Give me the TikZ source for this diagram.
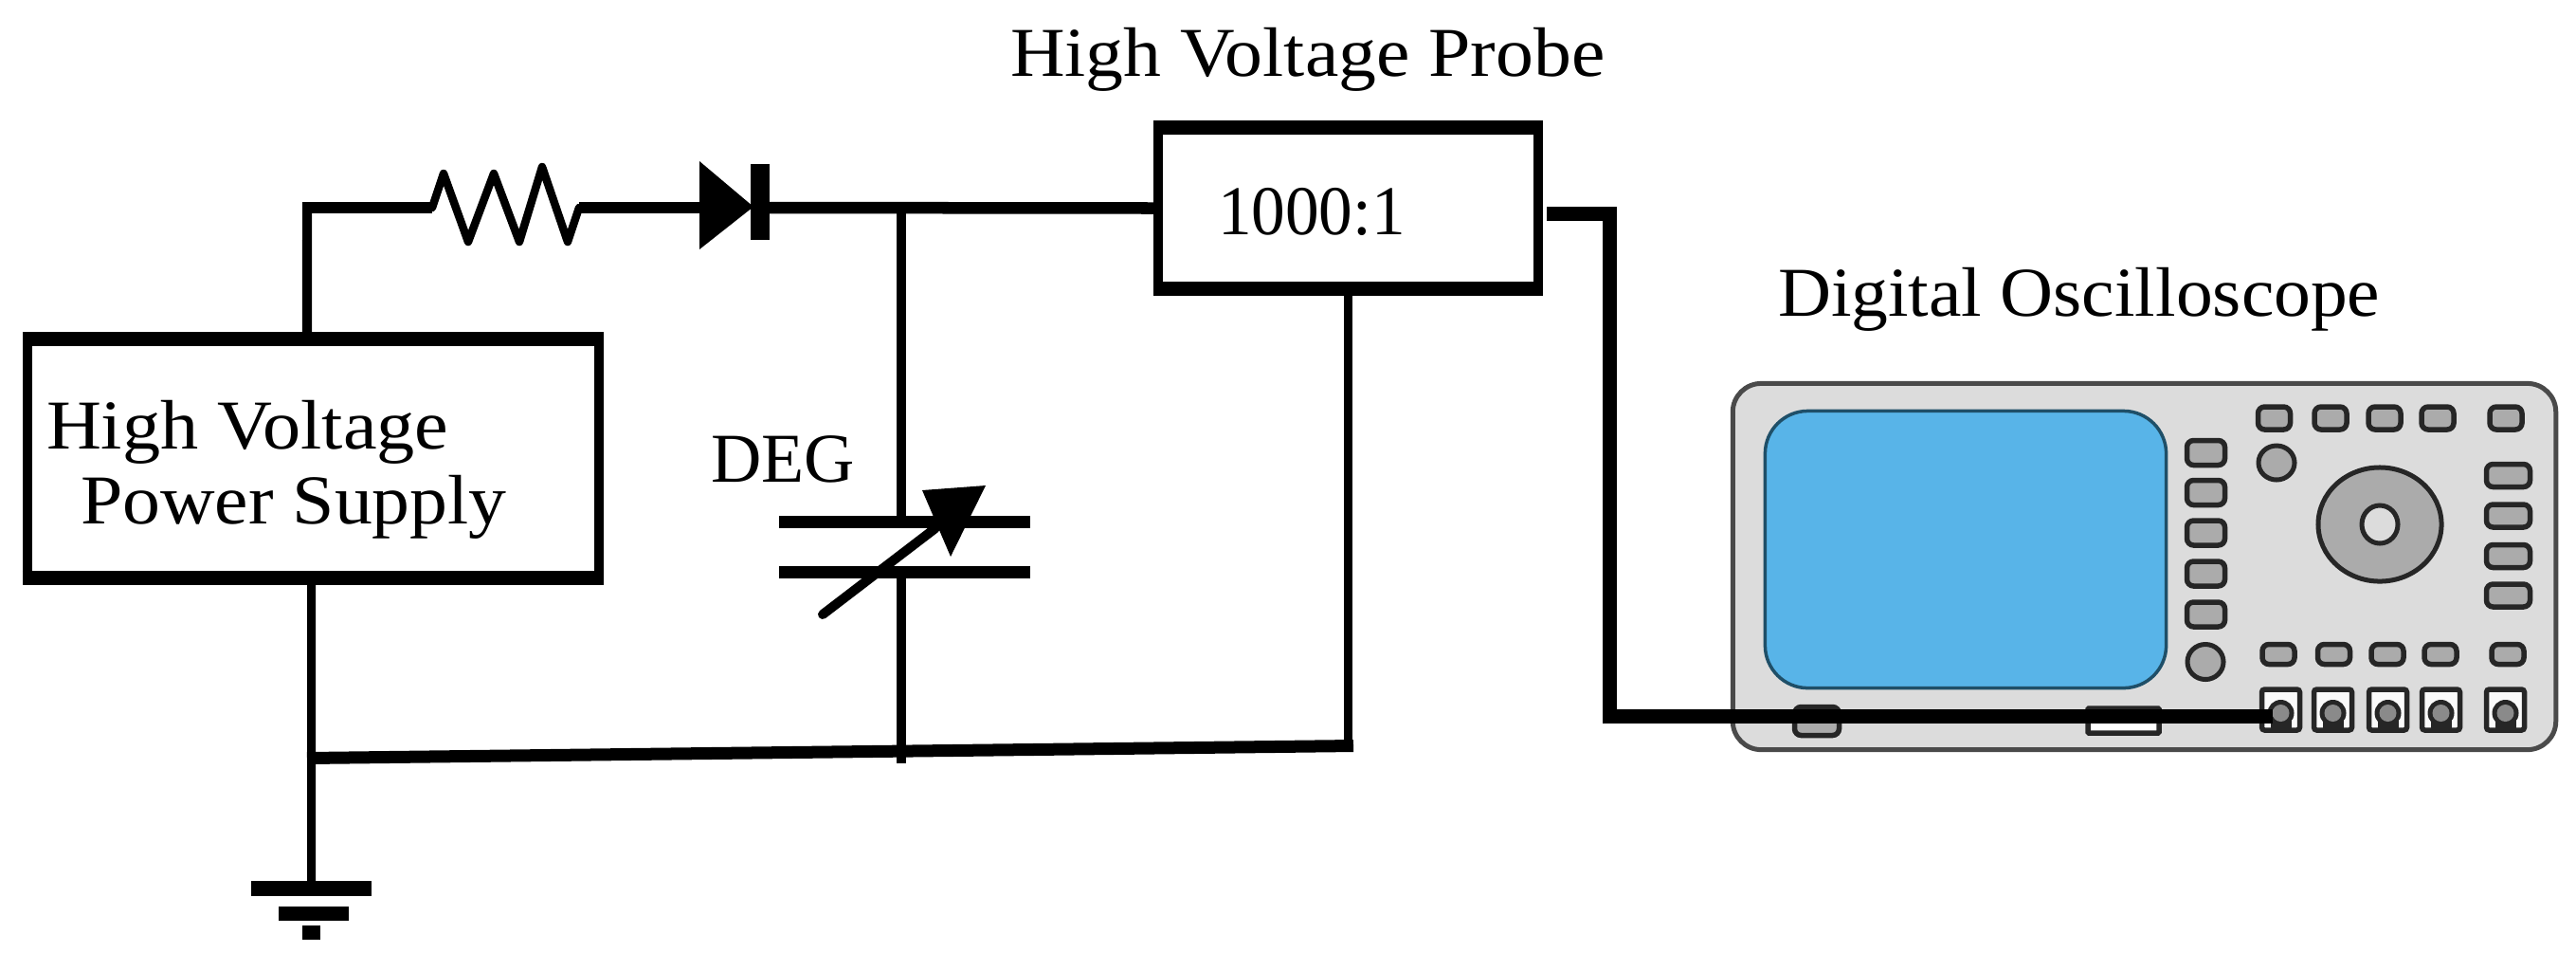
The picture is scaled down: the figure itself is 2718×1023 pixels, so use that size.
\documentclass[tikz,border=0pt]{standalone}
\usepackage{fontspec}
\setmainfont{Liberation Serif}
\usetikzlibrary{calc,shapes.geometric}
\definecolor{panel}{HTML}{DCDCDC}
\definecolor{edge}{HTML}{4A4A4A}
\definecolor{key}{HTML}{ABABAB}
\definecolor{lcd}{HTML}{58B4E8}
\definecolor{lcdedge}{HTML}{1F4F68}
\definecolor{knobdark}{HTML}{8A8A8A}
\tikzset{
  x=0.01cm,y=-0.01cm,
  box/.style={draw=black,fill=white,line width=0.1cm,inner sep=0pt,outer sep=0pt},
  hbar/.style={line width=0.145cm,line cap=butt},
  wire/.style={line width=0.125cm,line cap=butt,line join=miter},
  thin wire/.style={line width=0.09cm,line cap=butt},
  zig/.style={line width=0.085cm,line join=round,line cap=round},
  plate/.style={line width=0.13cm,line cap=butt},
  cable/.style={line width=0.15cm,line cap=butt,line join=miter},
  lbl/.style={font=\fontsize{21}{25}\selectfont,text=black,inner sep=0pt,outer sep=0pt,anchor=base west},
  body/.style={draw=edge,fill=panel,line width=0.05cm,rounded corners=0.3cm,inner sep=0pt},
  screen/.style={draw=lcdedge,fill=lcd,line width=0.035cm,rounded corners=0.45cm,inner sep=0pt},
  btn/.style={draw=black!85,fill=key,line width=0.055cm,rounded corners=0.07cm,inner sep=0pt},
  oval/.style={ellipse,draw=black!85,fill=key,line width=0.05cm,inner sep=0pt},
  jack/.style={draw=black!85,fill=white!85!panel,line width=0.055cm,rounded corners=0.03cm,inner sep=0pt,minimum width=0.4cm,minimum height=0.43cm},
}
\begin{document}
\begin{tikzpicture}
\useasboundingbox (0,0) rectangle (2718,1023);

% boxes
\node[box,minimum width=6.03cm,minimum height=2.57cm] (supply) at (330.5,483.5) {};
\node[box,minimum width=4.01cm,minimum height=1.75cm] (probe) at (1422.5,219.5) {};
\foreach \b in {supply,probe}{
  \draw[hbar] ($(\b.north west)+(-5,2.5)$) -- ($(\b.north east)+(5,2.5)$);
  \draw[hbar] ($(\b.south west)+(-5,-2.5)$) -- ($(\b.south east)+(5,-2.5)$);
}

% labels
\node[lbl,xscale=1.087,transform shape] (t1) at (49,473) {High Voltage};
\node[lbl,xscale=1.08,transform shape] (t2) at (85,552) {Power Supply};
\node[lbl,xscale=1.08,transform shape] (t3) at (1066,80) {High Voltage Probe};
\node[lbl,xscale=0.965,transform shape] (t4) at (1285,247) {1000:1};
\node[lbl] (t5) at (750,508) {DEG};
\node[lbl,xscale=1.05,transform shape] (t6) at (1876,333) {Digital Oscilloscope};

% named points of the circuit
\coordinate (corner) at (324,219);
\coordinate (rL) at (456,219);
\coordinate (rR) at (611,219);
\coordinate (dA) at (738,219);
\coordinate (dK) at (802,219);
\coordinate (capT) at (951,221);
\coordinate (capU) at (951,550);
\coordinate (capL) at (951,603);
\coordinate (capB) at (951,805);
\coordinate (gnd) at (328.5,937);
\coordinate (busL) at (324,799.5);
\coordinate (busR) at (1428,786.5);

% upper wires
\draw[thin wire,line width=0.1cm] ([xshift=-0.065cm]supply.north) -- (324,213);
\draw[wire] (318.5,219) -- (rL);
\draw[zig] (rL) -- ++(12,-36) -- ++(26,72) -- ++(27,-72) -- ++(27,72) -- ++(24,-79) -- ++(27,79) -- (rR);
\draw[wire] (rR) -- (dA);
\fill (dA |- 0,170) -- (795,218) -- (dA |- 0,263) -- cycle;
\fill (792,173) rectangle (812,253);
\draw[wire] (dK) -- (probe.west);

% capacitor
\draw[thin wire,line width=0.1cm] (capT) -- (capU);
\draw[thin wire,line width=0.1cm] (capL) -- (capB);
\draw[plate] (822,550) -- (1087,550);
\draw[plate] (822,603) -- (1087,603);
\draw[line width=0.1cm,line cap=round] (868,648) -- (987,557);
\fill (973,517) -- (1040,512) -- (1003,587) -- cycle;

% lower wires
\draw[thin wire] ([xshift=-0.02cm]supply.south) -- (gnd);
\draw[line width=0.13cm,line cap=butt] (busL) -- (busR);
\draw[thin wire] (probe.south) -- (1422.5,793);

% ground
\draw[line width=0.16cm] ($(gnd)+(-63.5,0)$) -- ($(gnd)+(63.5,0)$);
\draw[line width=0.15cm] ($(gnd)+(-34.5,26)$) -- ($(gnd)+(39.5,26)$);
\draw[line width=0.15cm] ($(gnd)+(-9.5,46)$) -- ($(gnd)+(9.5,46)$);

% oscilloscope
\node[body,minimum width=8.68cm,minimum height=3.86cm] (scope) at (2262.5,597.5) {};
\node[screen,minimum width=4.23cm,minimum height=2.92cm] (lcd) at (2074,579.5) {};
\foreach \x [count=\i] in {2399.5,2459,2516,2572,2644}
  \node[btn,minimum width=0.34cm,minimum height=0.24cm] (top\i) at (\x,441) {};
\foreach \y [count=\i] in {477.5,519.5,562,605,648}
  \node[btn,minimum width=0.40cm,minimum height=0.26cm] (side\i) at (2327.5,\y) {};
\foreach \y [count=\i] in {501.5,544,586.5,628}
  \node[btn,minimum width=0.46cm,minimum height=0.24cm] (right\i) at (2646.5,\y) {};
\foreach \x [count=\i] in {2404,2462.5,2519,2575,2646}
  \node[btn,minimum width=0.34cm,minimum height=0.21cm] (low\i) at (\x,690) {};
\node[oval,minimum width=0.38cm,minimum height=0.36cm] (o1) at (2402,488) {};
\node[oval,minimum width=0.38cm,minimum height=0.37cm] (o2) at (2327,698) {};
\node[oval,minimum width=1.30cm,minimum height=1.20cm] (knob) at (2511,553) {};
\node[oval,fill=panel,minimum width=0.38cm,minimum height=0.40cm] (hub) at (2511,553) {};
\foreach \x [count=\i] in {2406.5,2461.5,2519.5,2575.5,2643.5}{
  \node[jack] (jack\i) at (\x,748.5) {};
  \fill[black!85] ($(jack\i.center)+(-11,3)$) rectangle ($(jack\i.center)+(11,22)$);
  \fill[black!85] ($(jack\i.center)+(0,3.5)$) circle[radius=0.14cm];
  \fill[knobdark] ($(jack\i.center)+(0,3.5)$) circle[radius=0.09cm];
}
\node[btn,minimum width=0.47cm,minimum height=0.30cm] (sw1) at (1917,760.5) {};
\node[btn,fill=white,rounded corners=0.01cm,minimum width=0.75cm,minimum height=0.26cm] (sw2) at (2240.5,760) {};

% probe cable
\coordinate (cabA) at (1698,225);
\coordinate (cabB) at (1698,755);
\draw[cable] ($(probe.east)+(9,5.5)$) -- (cabA) -- (cabB) -- ($(jack1.center)+(-9,6.5)$);
\end{tikzpicture}
\end{document}
